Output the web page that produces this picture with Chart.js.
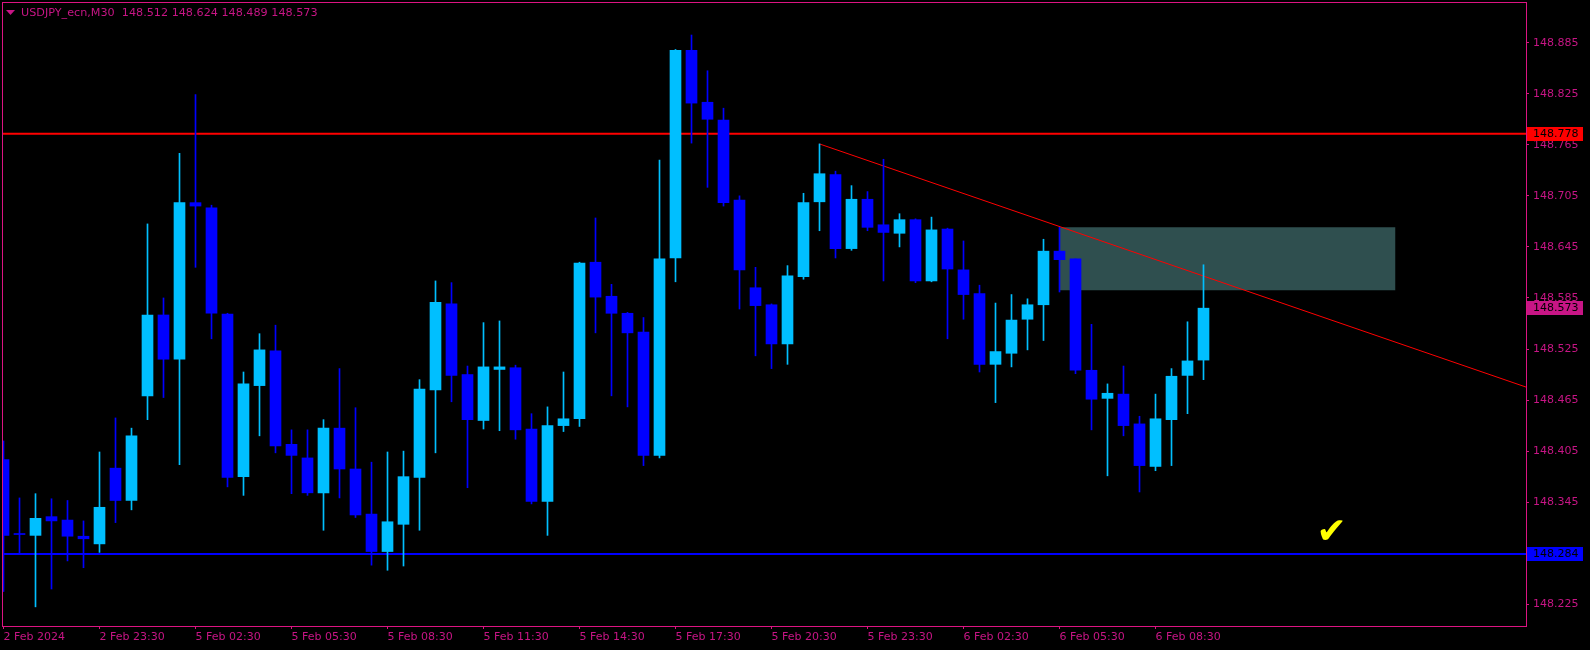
<!DOCTYPE html>
<html>
<head>
<meta charset="utf-8">
<script src="https://cdn.jsdelivr.net/npm/chart.js@4.4.1/dist/chart.umd.min.js"></script>
<style>
  html, body { margin: 0; padding: 0; background: #000; }
  canvas { display: block; }
</style>
</head>
<body>
<canvas id="chart" width="1590" height="650"></canvas>
<script>
// USDJPY_ecn M30 candles, bar index 0 = 2 Feb 20:30
const opens = [148.395, 148.308, 148.306, 148.328, 148.324, 148.305, 148.296, 148.385, 148.347, 148.470,
  148.565, 148.513, 148.697, 148.691, 148.566, 148.375, 148.482, 148.523, 148.413, 148.397,
  148.356, 148.432, 148.384, 148.331, 148.287, 148.319, 148.374, 148.477, 148.578, 148.495,
  148.441, 148.501, 148.503, 148.431, 148.346, 148.435, 148.443, 148.627, 148.587, 148.567,
  148.545, 148.400, 148.632, 148.876, 148.815, 148.794, 148.700, 148.597, 148.577, 148.531,
  148.610, 148.698, 148.730, 148.643, 148.701, 148.671, 148.661, 148.677, 148.605, 148.666,
  148.618, 148.590, 148.507, 148.520, 148.560, 148.577, 148.640, 148.631, 148.500, 148.467,
  148.472, 148.437, 148.387, 148.442, 148.494, 148.512];
const highs = [148.417, 148.350, 148.355, 148.349, 148.347, 148.323, 148.404, 148.444, 148.432, 148.672,
  148.585, 148.755, 148.824, 148.694, 148.567, 148.498, 148.543, 148.553, 148.430, 148.430,
  148.442, 148.502, 148.456, 148.392, 148.404, 148.405, 148.489, 148.605, 148.603, 148.505,
  148.556, 148.558, 148.506, 148.449, 148.457, 148.498, 148.627, 148.679, 148.601, 148.568,
  148.562, 148.747, 148.877, 148.894, 148.852, 148.808, 148.705, 148.621, 148.578, 148.623,
  148.708, 148.766, 148.734, 148.717, 148.710, 148.748, 148.684, 148.678, 148.680, 148.667,
  148.652, 148.600, 148.579, 148.589, 148.584, 148.654, 148.668, 148.631, 148.554, 148.484,
  148.505, 148.446, 148.472, 148.502, 148.557, 148.624];
const lows = [148.240, 148.285, 148.222, 148.243, 148.276, 148.268, 148.286, 148.321, 148.336, 148.442,
  148.468, 148.389, 148.621, 148.537, 148.363, 148.353, 148.423, 148.403, 148.355, 148.353,
  148.312, 148.350, 148.327, 148.271, 148.265, 148.270, 148.312, 148.403, 148.463, 148.362,
  148.431, 148.429, 148.419, 148.343, 148.306, 148.428, 148.434, 148.544, 148.470, 148.457,
  148.388, 148.397, 148.604, 148.767, 148.715, 148.693, 148.572, 148.517, 148.502, 148.507,
  148.607, 148.664, 148.632, 148.641, 148.664, 148.605, 148.645, 148.603, 148.604, 148.537,
  148.560, 148.498, 148.462, 148.504, 148.524, 148.535, 148.592, 148.496, 148.430, 148.376,
  148.423, 148.357, 148.382, 148.388, 148.449, 148.489];
const closes = [148.306, 148.307, 148.326, 148.323, 148.305, 148.302, 148.339, 148.347, 148.423, 148.565,
  148.513, 148.697, 148.693, 148.567, 148.374, 148.484, 148.524, 148.411, 148.400, 148.356,
  148.432, 148.384, 148.330, 148.287, 148.322, 148.375, 148.478, 148.580, 148.494, 148.442,
  148.504, 148.504, 148.430, 148.346, 148.435, 148.443, 148.626, 148.586, 148.567, 148.544,
  148.400, 148.631, 148.876, 148.814, 148.795, 148.697, 148.618, 148.576, 148.531, 148.611,
  148.697, 148.731, 148.643, 148.701, 148.668, 148.662, 148.677, 148.605, 148.665, 148.619,
  148.589, 148.507, 148.522, 148.559, 148.577, 148.640, 148.630, 148.500, 148.466, 148.473,
  148.435, 148.388, 148.443, 148.493, 148.511, 148.573];

const xTickBars = [0, 6, 12, 18, 24, 30, 36, 42, 48, 54, 60, 66, 72];
const xTickLabels = ['2 Feb 2024', '2 Feb 23:30', '5 Feb 02:30', '5 Feb 05:30', '5 Feb 08:30', '5 Feb 11:30',
  '5 Feb 14:30', '5 Feb 17:30', '5 Feb 20:30', '5 Feb 23:30', '6 Feb 02:30', '6 Feb 05:30', '6 Feb 08:30'];
const yTicks = [148.885, 148.825, 148.765, 148.705, 148.645, 148.585, 148.525, 148.465, 148.405, 148.345, 148.285, 148.225];

// objects drawn on the chart
const resistance = 148.778;
const support = 148.284;
const trendBars = [51, 95.2];
const trendPrices = [148.766, 148.480];
const zoneBars = [66, 87];
const zonePrices = [148.594, 148.668];
const checkBar = 83;
const checkPrice = 148.308;
const symbol = 'USDJPY_ecn,M30';

const BULL = '#00BFFF';
const BEAR = '#0000FF';
const FG = '#C71585';
const FRAME = '#DC1482';
const X_MIN = -0.09375, X_MAX = 95.15625;
const Y_MIN = 148.1995, Y_MAX = 148.9328;

Chart.defaults.font.family = 'DejaVu Sans';
Chart.defaults.font.size = 11;

const candleColors = closes.map((c, i) => c > opens[i] ? BULL : BEAR);

const background = {
  id: 'background',
  beforeDraw(chart) {
    const ctx = chart.ctx;
    ctx.save();
    ctx.fillStyle = '#000';
    ctx.fillRect(0, 0, chart.width, chart.height);
    ctx.restore();
  }
};

function priceTag(chart, price, color) {
  const ctx = chart.ctx;
  const py = Math.round(chart.scales.y.getPixelForValue(price));
  const left = chart.chartArea.right + 1;
  ctx.fillStyle = color;
  ctx.fillRect(left, py - 7, 56, 14);
  ctx.fillStyle = '#000';
  ctx.textAlign = 'left';
  ctx.textBaseline = 'middle';
  ctx.fillText(price.toFixed(3), left + 6, py + 0.5);
}

const overlay = {
  id: 'overlay',
  afterDraw(chart) {
    const { ctx, chartArea: a, scales: { x, y } } = chart;
    const last = closes.length - 1;
    ctx.save();
    ctx.strokeStyle = FRAME;
    ctx.lineWidth = 1;
    ctx.strokeRect(a.left + 0.5, a.top + 0.5, a.right - a.left, a.bottom - a.top);

    ctx.font = '11px "DejaVu Sans"';
    priceTag(chart, resistance, '#FF0000');
    priceTag(chart, support, BEAR);
    priceTag(chart, closes[last], FG);

    // header
    ctx.fillStyle = FG;
    ctx.beginPath();
    ctx.moveTo(6, 10);
    ctx.lineTo(15, 10);
    ctx.lineTo(10.5, 15);
    ctx.closePath();
    ctx.fill();
    ctx.textAlign = 'left';
    ctx.textBaseline = 'middle';
    ctx.font = '11.2px "DejaVu Sans"';
    const ohlc = [opens[last], highs[last], lows[last], closes[last]].map(v => v.toFixed(3)).join(' ');
    ctx.fillText(symbol + '  ' + ohlc, 21, 13);

    // check mark
    ctx.fillStyle = '#FFFF00';
    ctx.font = '36px "DejaVu Sans"';
    ctx.textAlign = 'center';
    ctx.fillText('\u2714', x.getPixelForValue(checkBar), y.getPixelForValue(checkPrice));
    ctx.restore();
  }
};

const flatLine = (price) => [{ x: X_MIN - 1, y: price }, { x: X_MAX + 1, y: price }];

new Chart(document.getElementById('chart'), {
  type: 'bar',
  data: {
    datasets: [
      {
        type: 'bar',
        data: closes.map((c, i) => ({ x: i, y: [opens[i], c] })),
        backgroundColor: candleColors,
        barThickness: 11,
        minBarLength: 1,
        grouped: false,
        borderWidth: 0,
        clip: 0,
        order: 1
      },
      {
        type: 'bar',
        data: highs.map((h, i) => ({ x: i, y: [lows[i], h] })),
        backgroundColor: candleColors,
        barThickness: 1,
        grouped: false,
        borderWidth: 0,
        clip: 0,
        order: 2
      },
      {
        type: 'line',
        data: trendBars.map((b, i) => ({ x: b, y: trendPrices[i] })),
        borderColor: '#FF0000',
        borderWidth: 1,
        pointRadius: 0,
        clip: 0,
        order: 3
      },
      {
        type: 'line',
        data: flatLine(resistance),
        borderColor: '#FF0000',
        borderWidth: 2,
        pointRadius: 0,
        clip: 0,
        order: 4
      },
      {
        type: 'line',
        data: flatLine(support),
        borderColor: BEAR,
        borderWidth: 2,
        pointRadius: 0,
        clip: 0,
        order: 4
      },
      {
        type: 'line',
        data: zoneBars.map(b => ({ x: b, y: zonePrices[1] })),
        borderColor: 'transparent',
        borderWidth: 0,
        backgroundColor: '#2F4F4F',
        fill: '+1',
        pointRadius: 0,
        clip: 0,
        order: 6
      },
      {
        type: 'line',
        data: zoneBars.map(b => ({ x: b, y: zonePrices[0] })),
        borderColor: 'transparent',
        borderWidth: 0,
        fill: false,
        pointRadius: 0,
        clip: 0,
        order: 6
      }
    ]
  },
  options: {
    responsive: false,
    animation: false,
    devicePixelRatio: 1,
    layout: { padding: { left: 2, top: 2, right: 0, bottom: 0 } },
    plugins: { legend: { display: false }, tooltip: { enabled: false } },
    scales: {
      x: {
        type: 'linear',
        min: X_MIN,
        max: X_MAX,
        offset: false,
        afterBuildTicks: (scale) => { scale.ticks = xTickBars.map(v => ({ value: v })); },
        afterFit: (scale) => { scale.height = 24; scale.paddingLeft = 0; scale.paddingRight = 0; },
        ticks: {
          callback: (v, i) => xTickLabels[i],
          autoSkip: false,
          maxRotation: 0,
          minRotation: 0,
          align: 'start',
          padding: 2,
          color: FG
        },
        grid: { offset: false, drawOnChartArea: false, drawTicks: true, tickLength: 3, color: FRAME },
        border: { display: false }
      },
      y: {
        type: 'linear',
        position: 'right',
        min: Y_MIN,
        max: Y_MAX,
        afterBuildTicks: (scale) => { scale.ticks = yTicks.map(v => ({ value: v })); },
        afterFit: (scale) => { scale.width = 64; scale.paddingTop = 0; scale.paddingBottom = 0; },
        ticks: {
          callback: (v) => v.toFixed(3),
          padding: 4,
          crossAlign: 'near',
          color: FG
        },
        grid: { drawOnChartArea: false, drawTicks: true, tickLength: 3, color: FRAME },
        border: { display: false }
      }
    }
  },
  plugins: [background, overlay]
});
</script>
</body>
</html>
